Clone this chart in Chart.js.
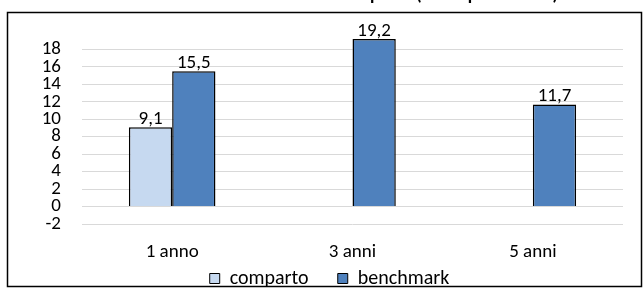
<!DOCTYPE html>
<html>
<head>
<meta charset="utf-8">
<script src="https://cdn.jsdelivr.net/npm/chart.js@4/dist/chart.umd.min.js"></script>
<style>
  html, body { margin: 0; padding: 0; background: #fff; }
  #wrap { width: 643px; height: 288px; position: relative; }
</style>
</head>
<body>
<div id="wrap"><canvas id="rendChart"></canvas></div>
<script>
var categories = ["1 anno", "3 anni", "5 anni"];
var comparto = [9.1, null, null];
var benchmark = [15.5, 19.2, 11.7];
var yTicks = [-2, 0, 2, 4, 6, 8, 10, 12, 14, 16, 18];
var titleText = "Rendimento medio annuo composto (valori percentuali)";

var FONT = "Carlito, Lato, 'Open Sans', sans-serif";
var FSIZE = 19;

// etichette sopra le barre, con la virgola
var barLabels = {
    id: 'barLabels',
    afterDatasetsDraw: function(chart) {
        var ctx = chart.ctx;
        ctx.save();
        ctx.font = FSIZE + "px " + FONT;
        ctx.fillStyle = "#000";
        ctx.textAlign = "center";
        ctx.textBaseline = "alphabetic";
        chart.data.datasets.forEach(function(ds, i) {
            chart.getDatasetMeta(i).data.forEach(function(bar, j) {
                if (ds.data[j] == null) return;
                ctx.fillText(ds.data[j].toFixed(1).replace(".", ","), bar.x, bar.y - 3);
            });
        });
        ctx.restore();
    }
};

// titolo tagliato in alto + cornice
var frame = {
    id: 'frame',
    afterDraw: function(chart) {
        var ctx = chart.ctx;
        ctx.save();
        ctx.font = "bold 18px " + FONT;
        ctx.fillStyle = "#000";
        ctx.textAlign = "right";
        ctx.textBaseline = "alphabetic";
        ctx.fillText(titleText, 558, 0);
        ctx.strokeStyle = "#000";
        ctx.lineWidth = 1.5;
        ctx.strokeRect(7.5, 12.5, 634, 274);
        ctx.restore();
    }
};

var config = {
    type: 'bar',
    data: {
        labels: categories,
        datasets: [{
            label: "comparto",
            data: comparto,
            backgroundColor: "#C6D9F0",
            borderColor: "#000",
            borderWidth: 1.5,
            categoryPercentage: 0.48,
            barPercentage: 1
        }, {
            label: "benchmark",
            data: benchmark,
            backgroundColor: "#4F81BD",
            borderColor: "#000",
            borderWidth: 1.5,
            categoryPercentage: 0.48,
            barPercentage: 1
        }]
    },
    options: {
        responsive: true,
        maintainAspectRatio: false,
        animation: false,
        layout: {
            padding: { left: 36, right: 20, top: 32, bottom: -10.5 }
        },
        plugins: {
            title: { display: false },
            tooltip: { enabled: false },
            legend: {
                display: true,
                position: 'bottom',
                labels: {
                    font: { family: FONT, size: 20 },
                    color: "#000",
                    boxWidth: 10,
                    boxHeight: 10,
                    padding: 6.5,
                    generateLabels: function(chart) {
                        var items = Chart.defaults.plugins.legend.labels.generateLabels(chart);
                        items.forEach(function(it, k) {
                            it.lineWidth = 1;
                            it.strokeStyle = "#000";
                            if (k < items.length - 1) it.text = it.text + "     ";
                        });
                        return items;
                    }
                }
            }
        },
        scales: {
            x: {
                afterFit: function(scale) { scale.height = 38; },
                grid: { display: false, drawTicks: false },
                border: { display: false },
                ticks: {
                    font: { family: FONT, size: FSIZE },
                    color: "#000",
                    padding: 17
                }
            },
            y: {
                min: -2,
                max: 20,
                afterFit: function(scale) { scale.width = 46; },
                afterBuildTicks: function(scale) {
                    scale.ticks = yTicks.concat([20]).map(function(v) { return { value: v }; });
                },
                grid: {
                    drawTicks: false,
                    color: function(c) { return c.tick && c.tick.value === 20 ? "rgba(0,0,0,0)" : "#D9D9D9"; },
                    lineWidth: 1
                },
                border: { display: false },
                ticks: {
                    autoSkip: false,
                    font: { family: FONT, size: FSIZE, lineHeight: 0.92 },
                    color: "#000",
                    padding: 21,
                    callback: function(v) { return v === 20 ? "" : v; }
                }
            }
        }
    },
    plugins: [barLabels, frame]
};

var ctx = document.getElementById("rendChart").getContext("2d");
var chart = new Chart(ctx, config);
</script>
</body>
</html>
